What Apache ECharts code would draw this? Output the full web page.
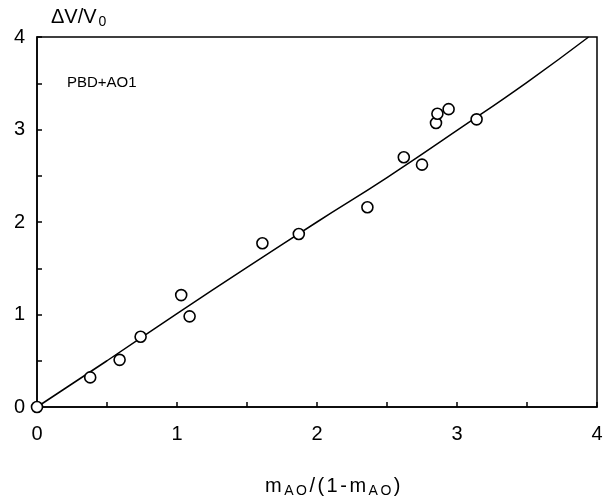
<!DOCTYPE html>
<html><head><meta charset="utf-8">
<script src="https://cdn.jsdelivr.net/npm/echarts@6/dist/echarts.min.js"></script>
<style>html,body{margin:0;padding:0;background:#fff}#c{width:606px;height:500px}</style>
</head><body><div id="c"></div>
<script>
const pointsX = [0, 0.38, 0.59, 0.74, 1.03, 1.09, 1.61, 1.87, 2.36, 2.62, 2.75, 2.85, 2.86, 2.94, 3.14];
const pointsY = [0, 0.32, 0.51, 0.76, 1.21, 0.98, 1.77, 1.87, 2.16, 2.70, 2.62, 3.07, 3.17, 3.22, 3.11];
const fitX = [0, 0.5, 1, 1.5, 2, 2.5, 3, 3.5, 3.94];
const fitY = [0, 0.50, 1.01, 1.51, 2.0, 2.48, 2.99, 3.51, 4.0];
const xTicks = [0, 1, 2, 3, 4];
const yTicks = [0, 1, 2, 3, 4];
const label = 'PBD+AO1';

const font = 'Liberation Sans, Arial, Helvetica, sans-serif';
const chart = echarts.init(document.getElementById('c'), null, {renderer: 'canvas'});
const isTick = (v, arr) => arr.some(t => Math.abs(t - v) < 1e-6);

// build spaced rich text for the x-axis title
const parts = [['a', 'm'], ['s', 'A'], ['s', 'O'], ['a', '/'], ['a', '('], ['a', '1'], ['a', '-'], ['a', 'm'], ['s', 'A'], ['s', 'O'], ['a', ')']];
const xTitle = parts.map(p => '{' + p[0] + '|' + p[1] + '}').join('');

chart.setOption({
  animation: false,
  backgroundColor: '#fff',
  grid: {left: 37, right: 9, top: 37, bottom: 93, show: true, borderColor: '#000', borderWidth: 1.5, backgroundColor: 'transparent'},
  xAxis: {
    type: 'value', min: 0, max: 4, interval: 0.5,
    axisLine: {show: true, lineStyle: {color: '#000', width: 1.5}},
    axisTick: {show: true, inside: true, length: 5, lineStyle: {color: '#000', width: 1.5}},
    splitLine: {show: false},
    axisLabel: {color: '#000', fontSize: 20, fontFamily: font, margin: 17,
      formatter: v => isTick(v, xTicks) ? String(v) : ''}
  },
  yAxis: {
    type: 'value', min: 0, max: 4, interval: 0.5,
    axisLine: {show: true, lineStyle: {color: '#000', width: 1.5}},
    axisTick: {show: true, inside: true, length: 5, lineStyle: {color: '#000', width: 1.5}},
    splitLine: {show: false},
    axisLabel: {color: '#000', fontSize: 20, fontFamily: font, margin: 12,
      formatter: v => isTick(v, yTicks) ? String(v) : ''}
  },
  graphic: [
    {type: 'text', left: 51, top: 7, style: {
      text: '{a|ΔV/V}{s|0}', fill: '#000',
      rich: {a: {fontSize: 20, fontFamily: font, fill: '#000'},
             s: {fontSize: 14, fontFamily: font, fill: '#000', padding: [11, 0, 0, 2]}}}},
    {type: 'text', left: 67, top: 75, style: {text: label, fill: '#000', fontSize: 15, fontFamily: font}},
    {type: 'text', left: 265, top: 476, style: {
      text: xTitle, fill: '#000',
      rich: {a: {fontSize: 20, fontFamily: font, fill: '#000', padding: [0, 2.5, 0, 0]},
             s: {fontSize: 14, fontFamily: font, fill: '#000', padding: [11, 2.5, 0, 0]}}}}
  ],
  series: [
    {type: 'line', data: fitX.map((x, i) => [x, fitY[i]]), smooth: true, showSymbol: false,
      lineStyle: {color: '#000', width: 1.5}, z: 2},
    {type: 'scatter', data: pointsX.map((x, i) => [x, pointsY[i]]), symbol: 'circle', symbolSize: 11,
      itemStyle: {color: '#fff', borderColor: '#000', borderWidth: 1.6, opacity: 1}, z: 3}
  ]
});
</script></body></html>
